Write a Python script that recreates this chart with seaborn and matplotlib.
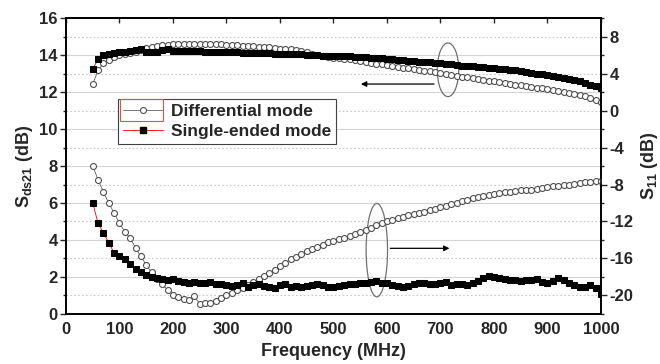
import numpy as np
import seaborn as sns
import matplotlib.pyplot as plt
from matplotlib.patches import Ellipse, Rectangle
from matplotlib.lines import Line2D
from matplotlib.ticker import MultipleLocator

# sweep frequencies (MHz)
freq = np.arange(50, 1001, 10)

# S_ds21 (dB), left axis
sds21_diff = [12.42, 13.18, 13.55, 13.75, 13.89, 13.98, 14.04, 14.10, 14.18, 14.26,
              14.36, 14.43, 14.48, 14.53, 14.56, 14.57, 14.58, 14.59, 14.60, 14.60,
              14.60, 14.59, 14.58, 14.58, 14.57, 14.56, 14.55, 14.53, 14.51, 14.50,
              14.48, 14.45, 14.43, 14.41, 14.39, 14.35, 14.32, 14.30, 14.27, 14.22,
              14.15, 14.08, 14.00, 13.95, 13.89, 13.85, 13.82, 13.79, 13.76, 13.72,
              13.68, 13.63, 13.58, 13.54, 13.50, 13.45, 13.40, 13.36, 13.32, 13.28,
              13.24, 13.20, 13.15, 13.11, 13.06, 13.01, 12.97, 12.92, 12.87, 12.83,
              12.79, 12.75, 12.70, 12.66, 12.62, 12.58, 12.54, 12.49, 12.45, 12.40,
              12.36, 12.32, 12.28, 12.24, 12.19, 12.14, 12.09, 12.04, 11.99, 11.94,
              11.89, 11.84, 11.77, 11.68, 11.57, 11.45]
sds21_single = [13.24, 13.78, 14.02, 14.08, 14.12, 14.15, 14.17, 14.20, 14.28, 14.33,
                14.15, 14.16, 14.18, 14.25, 14.32, 14.22, 14.20, 14.20, 14.20, 14.20,
                14.19, 14.18, 14.17, 14.17, 14.16, 14.15, 14.15, 14.14, 14.13, 14.12,
                14.12, 14.10, 14.10, 14.09, 14.08, 14.07, 14.06, 14.05, 14.04, 14.03,
                14.02, 14.00, 13.99, 13.97, 13.96, 13.95, 13.94, 13.93, 13.92, 13.90,
                13.88, 13.87, 13.85, 13.84, 13.83, 13.80, 13.76, 13.73, 13.71, 13.68,
                13.66, 13.64, 13.62, 13.60, 13.58, 13.56, 13.54, 13.50, 13.46, 13.43,
                13.41, 13.38, 13.36, 13.33, 13.30, 13.28, 13.26, 13.23, 13.20, 13.17,
                13.13, 13.08, 13.04, 13.00, 12.96, 12.91, 12.85, 12.80, 12.74, 12.70,
                12.65, 12.58, 12.50, 12.40, 12.33, 12.22]

# S11 (dB), right axis
s11_diff = [-6.0, -7.5, -8.84, -10.0, -11.1, -12.2, -13.1, -13.8, -14.84, -15.76,
            -16.7, -17.5, -18.2, -18.8, -19.4, -19.9, -20.2, -20.4, -20.5, -20.1,
            -20.9, -20.8, -20.76, -20.6, -20.3, -20.0, -19.7, -19.44, -19.24, -18.9,
            -18.5, -18.2, -17.9, -17.6, -17.2, -16.8, -16.44, -16.1, -15.84, -15.56,
            -15.24, -14.96, -14.76, -14.5, -14.24, -14.06, -13.9, -13.76, -13.6, -13.4,
            -13.16, -12.9, -12.66, -12.4, -12.16, -11.96, -11.8, -11.64, -11.5, -11.34,
            -11.2, -11.06, -10.94, -10.8, -10.64, -10.48, -10.3, -10.12, -9.96, -9.8,
            -9.64, -9.5, -9.36, -9.24, -9.1, -9.0, -8.92, -8.84, -8.76, -8.7,
            -8.64, -8.6, -8.56, -8.48, -8.36, -8.24, -8.16, -8.12, -8.08, -8.0,
            -7.92, -7.84, -7.76, -7.7, -7.66, -7.6]
s11_single = [-10.0, -12.2, -13.24, -14.3, -15.4, -15.76, -16.1, -16.64, -17.14, -17.44,
              -17.74, -18.0, -18.16, -18.24, -18.32, -18.24, -18.46, -18.56, -18.6, -18.56,
              -18.6, -18.7, -18.56, -18.8, -18.76, -18.9, -19.0, -18.9, -18.7, -19.1,
              -18.9, -18.8, -19.0, -19.04, -19.2, -18.84, -18.8, -19.04, -19.0, -19.06,
              -19.0, -18.9, -18.76, -18.9, -19.1, -19.1, -18.96, -18.84, -18.76, -18.72,
              -18.68, -18.64, -18.52, -18.46, -18.6, -18.68, -18.84, -18.94, -19.04, -19.0,
              -18.76, -18.68, -18.68, -18.72, -18.76, -18.68, -18.56, -18.9, -18.8, -18.76,
              -18.84, -18.64, -18.44, -18.1, -17.9, -18.0, -18.16, -18.24, -18.32, -18.36,
              -18.4, -18.36, -18.32, -18.24, -18.56, -18.7, -18.44, -18.16, -18.3, -18.68,
              -18.9, -19.04, -19.1, -18.9, -19.2, -19.8]

labels = ["Differential mode", "Single-ended mode"]

sns.set_style("white")
plt.rcParams['font.family'] = ['Liberation Sans', 'DejaVu Sans']
plt.rcParams['font.weight'] = 'bold'
plt.rcParams['axes.unicode_minus'] = False
plt.rcParams['mathtext.fontset'] = 'custom'
plt.rcParams['mathtext.rm'] = 'Liberation Sans'
plt.rcParams['mathtext.bf'] = 'Liberation Sans:bold'
plt.rcParams['mathtext.default'] = 'bf'

fig = plt.figure(figsize=(6.6, 3.64), dpi=100)
ax = fig.add_axes([0.1, 0.1374, 0.8106, 0.8131])
ax2 = ax.twinx()

diff_kw = dict(marker='o', markersize=4.3, markerfacecolor='white', markeredgecolor='#505050',
               markeredgewidth=0.8, color='#606060', linewidth=0.6)
single_kw = dict(marker='s', markersize=4.2, markerfacecolor='black', markeredgecolor='black',
                 color='red', linewidth=0.6)

sns.lineplot(x=freq, y=sds21_diff, ax=ax, **diff_kw)
sns.lineplot(x=freq, y=sds21_single, ax=ax, **single_kw)
sns.lineplot(x=freq, y=s11_diff, ax=ax2, **diff_kw)
sns.lineplot(x=freq, y=s11_single, ax=ax2, **single_kw)

ax.set_xlim(0, 1000)
ax.set_ylim(0, 16)
ax2.set_ylim(-22, 10)

# grid: solid at even, dotted at odd
for v in range(1, 16):
    if v % 2 == 0:
        ax.axhline(v, color='#d4d4d4', lw=0.8, zorder=0)
    else:
        ax.axhline(v, color='#c8c8c8', lw=0.8, ls=(0, (1.5, 2)), zorder=0)

ax.xaxis.set_major_locator(MultipleLocator(100))
ax.xaxis.set_minor_locator(MultipleLocator(50))
ax.yaxis.set_major_locator(MultipleLocator(2))
ax.yaxis.set_minor_locator(MultipleLocator(1))
ax2.yaxis.set_minor_locator(MultipleLocator(2))
ax2.set_yticks([-20, -16, -12, -8, -4, 0, 4, 8])

for a in (ax, ax2):
    for s in a.spines.values():
        s.set_linewidth(1.2)
        s.set_color('black')
ax.tick_params(which='major', direction='out', length=4, width=1, labelsize=12, pad=2)
ax.tick_params(which='minor', direction='out', length=2.5, width=1)
ax2.tick_params(which='major', direction='out', length=4, width=1, labelsize=12, pad=2, right=True)
ax2.tick_params(which='minor', direction='out', length=2.5, width=1, right=True)

top = ax.secondary_xaxis('top')
top.set_xticks(np.arange(0, 1001, 100))
top.tick_params(direction='in', length=3.5, width=1, labeltop=False)
top.spines['top'].set_linewidth(1.2)

ax.set_xlabel("Frequency (MHz)", fontsize=13, fontweight='bold', labelpad=4)
ax.set_ylabel(r"S$_{ds21}$ (dB)", fontsize=13, fontweight='bold', labelpad=3)
ax2.set_ylabel(r"S$_{11}$ (dB)", fontsize=13, fontweight='bold', rotation=90, labelpad=4)

# annotations: ellipses and arrows
ax.add_patch(Ellipse((714, 13.2), 40, 2.9, fill=False, edgecolor='#707070', lw=0.9))
ax.annotate("", xy=(546, 12.43), xytext=(693, 12.43),
            arrowprops=dict(arrowstyle='-|>', color='black', lw=0.9, mutation_scale=8))
ax2.add_patch(Ellipse((581, -15.1), 40, 10.1, fill=False, edgecolor='#707070', lw=0.9))
ax2.annotate("", xy=(722, -14.9), xytext=(601, -14.9),
             arrowprops=dict(arrowstyle='-|>', color='black', lw=0.9, mutation_scale=8))

handles = [Line2D([], [], **diff_kw), Line2D([], [], **single_kw)]
leg = ax2.legend(handles, labels, loc='upper left', bbox_to_anchor=(0.097, 0.728),
                 fancybox=False, framealpha=1, edgecolor='#404040', fontsize=12.5,
                 handlelength=2.3, borderpad=0.3, labelspacing=0.3, handletextpad=0.45,
                 borderaxespad=0)
leg.get_frame().set_linewidth(0.8)
for t in leg.get_texts():
    t.set_fontweight('bold')
ax2.add_patch(Rectangle((0.101, 0.652), 0.08, 0.073, transform=ax2.transAxes,
                        fill=False, edgecolor='#e05050', lw=0.8, zorder=10))

fig.savefig("out.png", dpi=100)
